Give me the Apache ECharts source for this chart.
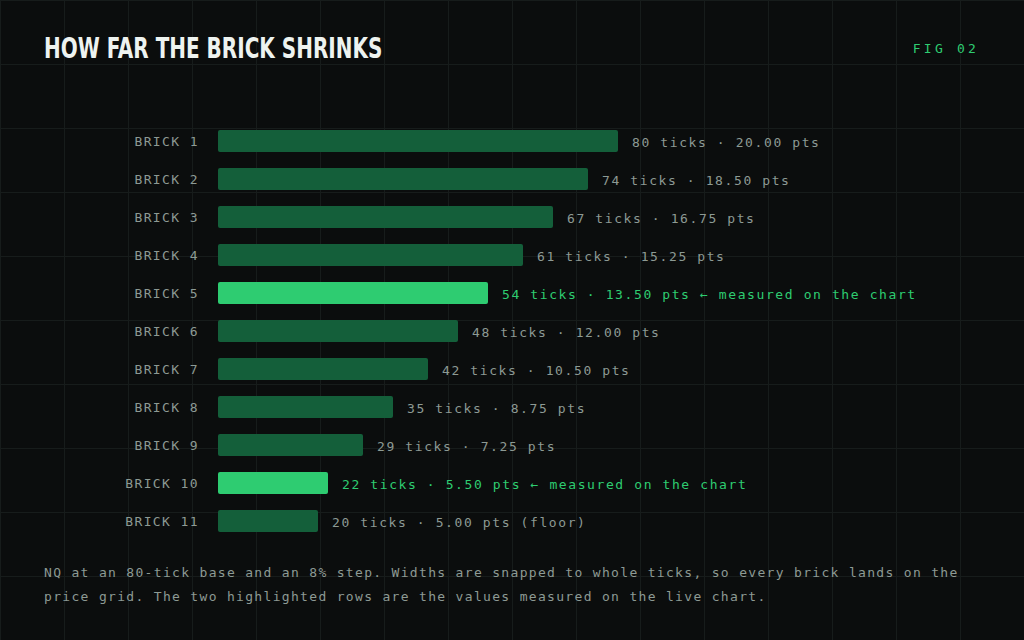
<!DOCTYPE html>
<html>
<head>
<meta charset="utf-8">
<script src="https://cdn.jsdelivr.net/npm/echarts@6/dist/echarts.min.js"></script>
<style>
  html, body { margin: 0; padding: 0; }
  body {
    width: 1024px; height: 640px; overflow: hidden; position: relative;
    background-color: #0b0d0d;
    background-image:
      linear-gradient(to right, #171c1b 1px, transparent 1px),
      linear-gradient(to bottom, #171c1b 1px, transparent 1px);
    background-size: 64px 64px;
    background-position: 0 0;
  }
  #title {
    position: absolute; left: 44px; top: 32px; white-space: nowrap;
    font-family: "DejaVu Sans Condensed", "DejaVu Sans", sans-serif;
    font-stretch: condensed;
    font-weight: bold; font-size: 28px; color: #eef3f0;
    transform-origin: 0 0;
  }
  #fig {
    position: absolute; right: 45px; top: 41px;
    font-family: "DejaVu Sans Mono", monospace; font-size: 13px;
    color: #2ecc71; letter-spacing: 3.2px;
  }
  #note {
    position: absolute; left: 44px; top: 561px; width: 950px;
    font-family: "DejaVu Sans Mono", monospace; font-size: 13px;
    line-height: 24px; color: #8d9a94; letter-spacing: 1.32px;
  }
  #chart { position: absolute; left: 0; top: 0; width: 1024px; height: 640px; }
  #chart svg text { letter-spacing: 1.6px; }
  #chart svg text[text-anchor="end"] { letter-spacing: 1.4px; }
</style>
</head>
<body>
<div id="title">HOW FAR THE BRICK SHRINKS</div>
<div id="fig">FIG 02</div>
<div id="chart"></div>
<div id="note">NQ at an 80-tick base and an 8% step. Widths are snapped to whole ticks, so every brick lands on the price grid. The two highlighted rows are the values measured on the live chart.</div>
<script>
// bricks, top to bottom
var bricks = ['BRICK 1', 'BRICK 2', 'BRICK 3', 'BRICK 4', 'BRICK 5', 'BRICK 6',
  'BRICK 7', 'BRICK 8', 'BRICK 9', 'BRICK 10', 'BRICK 11']
var ticks = [80, 74, 67, 61, 54, 48, 42, 35, 29, 22, 20]
var points = ['20.00', '18.50', '16.75', '15.25', '13.50', '12.00', '10.50', '8.75', '7.25', '5.50', '5.00']
var measured = [false, false, false, false, true, false, false, false, false, true, false]
var notes = ['', '', '', '', ' ← measured on the chart', '', '', '', '', ' ← measured on the chart', ' (floor)']

var dark = '#145f3a'
var bright = '#2ecc71'
var grey = '#8d9a94'

// squeeze the heading to the narrow width of the original
var title = document.getElementById('title')
title.style.transform = 'scaleX(' + (338 / title.offsetWidth) + ')'

var chart = echarts.init(document.getElementById('chart'), null, { renderer: 'svg' })

var data = ticks.map(function (v, i) {
  return {
    value: v,
    itemStyle: { color: measured[i] ? bright : dark },
    label: { color: measured[i] ? bright : grey }
  }
})

var option = {
  backgroundColor: 'transparent',
  animation: false,
  grid: { left: 218, top: 122, width: 400, height: 418 },
  xAxis: {
    type: 'value', min: 0, max: 80,
    show: false
  },
  yAxis: {
    type: 'category',
    inverse: true,
    data: bricks,
    axisLine: { show: false },
    axisTick: { show: false },
    axisLabel: {
      color: grey, margin: 19,
      fontFamily: 'DejaVu Sans Mono', fontSize: 13,
      padding: [2, 0, 0, 0]
    }
  },
  series: [{
    type: 'bar',
    data: data,
    barWidth: 22,
    itemStyle: { borderRadius: 2 },
    label: {
      show: true,
      position: 'right',
      distance: 14,
      offset: [0, 1],
      fontFamily: 'DejaVu Sans Mono', fontSize: 13,
      formatter: function (p) {
        var i = p.dataIndex
        return ticks[i] + ' ticks · ' + points[i] + ' pts' + notes[i]
      }
    }
  }]
}

chart.setOption(option)
</script>
</body>
</html>
